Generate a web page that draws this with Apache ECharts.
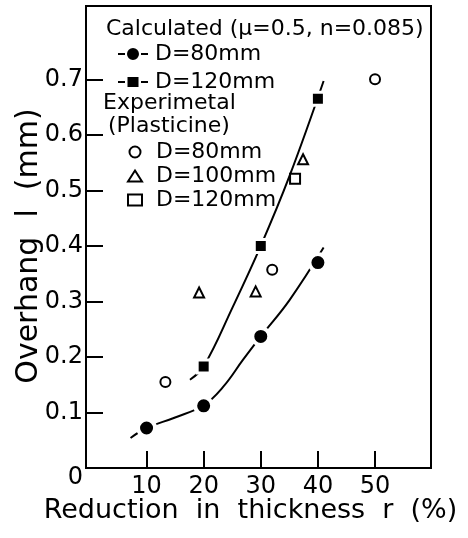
<!DOCTYPE html>
<html>
<head>
<meta charset="utf-8">
<script src="https://cdn.jsdelivr.net/npm/echarts@6/dist/echarts.min.js"></script>
<style>
  html, body { margin: 0; padding: 0; background: #fff; }
  #chart_1 { width: 468px; height: 538px; }
</style>
</head>
<body>
<div id="chart_1"></div>
<script>
// calculated, D=80mm : markers and the drawn curve
var calc80X = [10, 20, 30, 40];
var calc80Y = [0.072, 0.112, 0.237, 0.370];
var calc80CurveX = [7.2, 10, 15, 20, 23.4, 26.9, 30, 35, 41];
var calc80CurveY = [0.054, 0.072, 0.091, 0.113, 0.146, 0.195, 0.237, 0.302, 0.397];

// calculated, D=120mm
var calc120X = [20, 30, 40];
var calc120Y = [0.183, 0.400, 0.665];
var calc120CurveX = [17.6, 20, 25, 30, 35, 41];
var calc120CurveY = [0.159, 0.183, 0.288, 0.400, 0.525, 0.697];

// experimental (plasticine)
var exp80X = [13.3, 32, 50];
var exp80Y = [0.155, 0.357, 0.700];
var exp100X = [19.2, 29.1, 37.4];
var exp100Y = [0.316, 0.318, 0.556];
var exp120X = [36];
var exp120Y = [0.521];

var xTicks = [10, 20, 30, 40, 50];
var yTicks = [0.1, 0.2, 0.3, 0.4, 0.5, 0.6, 0.7];
var yLabels = [0, 0.1, 0.2, 0.3, 0.4, 0.5, 0.6, 0.7];

var legendNames = {
  calc80: 'D=80mm', calc120: 'D=120mm',
  exp80: 'D=80mm', exp100: 'D=100mm', exp120: 'D=120mm'
};

function pairs(xs, ys) {
  var out = [];
  for (var i = 0; i < xs.length; i++) out.push([xs[i], ys[i]]);
  return out;
}

var FONT = 'DejaVu Sans';
var openStyle = { color: '#fff', borderColor: '#000', borderWidth: 2, opacity: 1 };

var myChart1 = echarts.init(document.getElementById('chart_1'));
var option1 = {
  backgroundColor: '#fff',
  animation: false,
  textStyle: { fontFamily: FONT, color: '#000' },
  grid: {
    left: 86, right: 37, top: 6, bottom: 70,
    outerBoundsMode: 'none',
    containLabel: false,
    show: true, borderColor: '#000', borderWidth: 2
  },
  xAxis: {
    type: 'value',
    min: -0.6,
    max: 59.8,
    name: 'Reduction  in  thickness  r  (%)',
    nameLocation: 'middle',
    nameGap: 29,
    nameMoveOverlap: false,
    nameTextStyle: { fontSize: 27, color: '#000', fontFamily: FONT, padding: [0, 16, 0, 0] },
    splitLine: { show: false },
    axisLine: { onZero: false, lineStyle: { color: '#000', width: 2 } },
    axisTick: { inside: true, length: 17, customValues: xTicks, lineStyle: { color: '#000', width: 2 } },
    axisLabel: { customValues: xTicks, fontSize: 24, color: '#000', margin: 7 }
  },
  yAxis: {
    type: 'value',
    min: 0,
    max: 0.832,
    name: 'Overhang  l  (mm)',
    nameLocation: 'middle',
    nameRotate: 90,
    nameGap: 42,
    nameMoveOverlap: false,
    nameTextStyle: { fontSize: 30, color: '#000', fontFamily: FONT, padding: [0, 18, 0, 0] },
    splitLine: { show: false },
    axisLine: { onZero: false, lineStyle: { color: '#000', width: 2 } },
    axisTick: { inside: true, length: 17, customValues: yTicks, lineStyle: { color: '#000', width: 2 } },
    axisLabel: {
      customValues: yLabels,
      fontSize: 24,
      color: '#000',
      margin: 3,
      formatter: function (v) {
        if (v === 0) return '{z|0}';
        return v.toFixed(1);
      },
      rich: { z: { fontSize: 24, color: '#000', padding: [20, 0, 0, 0] } }
    }
  },
  legend: [
    {
      orient: 'vertical',
      left: 113, top: 37,
      itemWidth: 30, itemHeight: 12, itemGap: 4,
      selectedMode: false,
      textStyle: { fontSize: 22, lineHeight: 24, color: '#000', fontFamily: FONT, padding: [0, 0, 0, 2] },
      formatter: function (n) { return legendNames[n]; },
      data: [
        { name: 'calc80', icon: 'path://M0 5h7v2H0z M21 6A6 6 0 1 0 9 6A6 6 0 1 0 21 6z M23 5h7v2h-7z', itemStyle: { color: '#000', opacity: 1 } },
        { name: 'calc120', icon: 'path://M0 5h7v2H0z M9.5 1h11v10h-11z M23 5h7v2h-7z', itemStyle: { color: '#000', opacity: 1 } }
      ]
    },
    {
      orient: 'vertical',
      left: 122, top: 135,
      itemWidth: 14, itemHeight: 11, itemGap: 0,
      selectedMode: false,
      textStyle: { fontSize: 22, lineHeight: 24, color: '#000', fontFamily: FONT, padding: [0, 0, 0, 9] },
      formatter: function (n) { return legendNames[n]; },
      data: [
        { name: 'exp80', icon: 'circle', itemStyle: openStyle },
        { name: 'exp100', icon: 'triangle', itemStyle: openStyle },
        { name: 'exp120', icon: 'rect', itemStyle: openStyle }
      ]
    }
  ],
  graphic: [
    { type: 'text', left: 106, top: 18, style: { text: 'Calculated (μ=0.5, n=0.085)', font: '22px "DejaVu Sans"', fill: '#000' } },
    { type: 'text', left: 103, top: 92, style: { text: 'Experimetal', font: '22px "DejaVu Sans"', fill: '#000' } },
    { type: 'text', left: 108, top: 115, style: { text: '(Plasticine)', font: '22px "DejaVu Sans"', fill: '#000' } }
  ],
  series: [
    {
      name: 'calc80', type: 'line', smooth: 0.4, symbol: 'none',
      lineStyle: { color: '#000', width: 2 }, itemStyle: { color: '#000' },
      data: pairs(calc80CurveX, calc80CurveY), z: 2
    },
    {
      name: 'calc120', type: 'line', smooth: 0.4, symbol: 'none',
      lineStyle: { color: '#000', width: 2 }, itemStyle: { color: '#000' },
      data: pairs(calc120CurveX, calc120CurveY), z: 2
    },
    {
      name: 'calc80pts', type: 'scatter', symbol: 'circle', symbolSize: 17,
      itemStyle: { color: '#000', borderColor: '#fff', borderWidth: 4, opacity: 1 },
      data: pairs(calc80X, calc80Y), z: 3
    },
    {
      name: 'calc120pts', type: 'scatter', symbol: 'rect', symbolSize: 13,
      itemStyle: { color: '#000', borderColor: '#fff', borderWidth: 3, opacity: 1 },
      data: pairs(calc120X, calc120Y), z: 3
    },
    {
      name: 'exp80', type: 'scatter', symbol: 'circle', symbolSize: 10,
      itemStyle: openStyle, data: pairs(exp80X, exp80Y), z: 4
    },
    {
      name: 'exp100', type: 'scatter', symbol: 'triangle', symbolSize: 10,
      itemStyle: openStyle, data: pairs(exp100X, exp100Y), z: 4
    },
    {
      name: 'exp120', type: 'scatter', symbol: 'rect', symbolSize: 10,
      itemStyle: openStyle, data: pairs(exp120X, exp120Y), z: 4
    }
  ]
};
myChart1.setOption(option1);
</script>
</body>
</html>
